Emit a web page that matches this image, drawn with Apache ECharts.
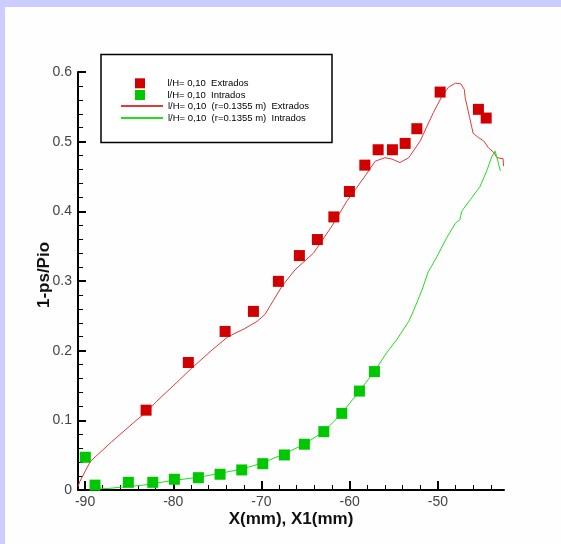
<!DOCTYPE html>
<html>
<head>
<meta charset="utf-8">
<script src="https://cdn.jsdelivr.net/npm/echarts@6/dist/echarts.min.js"></script>
<style>
html,body{margin:0;padding:0;background:#fefefe;}
#chart{width:561px;height:544px;}
</style>
</head>
<body>
<div id="chart"></div>
<script>
// ---- data ----
const extradosPoints = [
  [-83.08, 0.1146], [-78.29, 0.183], [-74.12, 0.2276], [-70.91, 0.2564], [-68.08, 0.2995],
  [-65.70, 0.3365], [-63.66, 0.3595], [-61.79, 0.392], [-60.03, 0.4285], [-58.28, 0.4663],
  [-56.77, 0.4884], [-55.15, 0.4884], [-53.71, 0.4975], [-52.38, 0.5186], [-49.74, 0.5712],
  [-45.40, 0.5464], [-44.52, 0.5339]
];
const intradosPoints = [
  [-89.97, 0.047], [-88.87, 0.007], [-85.09, 0.011], [-82.32, 0.011], [-79.87, 0.0154],
  [-77.15, 0.0177], [-74.69, 0.0226], [-72.23, 0.0288], [-69.85, 0.0378], [-67.40, 0.0503],
  [-65.13, 0.0657], [-62.93, 0.0838], [-60.89, 0.110], [-58.89, 0.142], [-57.19, 0.170]
];
const extradosLine = [
  [-90.8, 0.005], [-90.6, 0.012], [-89.4, 0.041], [-87.0, 0.069], [-84.1, 0.101], [-83.2, 0.110],
  [-81.9, 0.127], [-79.8, 0.152], [-77.9, 0.175], [-75.6, 0.201], [-73.8, 0.220], [-72.0, 0.231],
  [-70.5, 0.242], [-69.6, 0.252], [-67.7, 0.292], [-66.2, 0.316], [-64.1, 0.340], [-62.0, 0.379],
  [-60.3, 0.415], [-58.4, 0.448], [-57.1, 0.472], [-56.0, 0.477], [-55.2, 0.475], [-54.3, 0.470],
  [-53.3, 0.477], [-52.0, 0.501], [-50.5, 0.542], [-49.5, 0.566], [-48.8, 0.578], [-48.0, 0.584],
  [-47.4, 0.583], [-47.0, 0.575], [-46.9, 0.563], [-46.4, 0.535], [-46.0, 0.512], [-45.4, 0.506],
  [-44.8, 0.501], [-44.25, 0.491], [-43.7, 0.485], [-43.3, 0.477], [-42.6, 0.4755], [-42.55, 0.465]
];
const intradosLine = [
  [-89.3, 0.004], [-87.5, 0.002], [-86.0, 0.004], [-83.4, 0.007], [-79.9, 0.014], [-77.2, 0.018],
  [-74.7, 0.024], [-72.2, 0.030], [-69.85, 0.039], [-67.4, 0.052], [-65.1, 0.066], [-62.9, 0.084],
  [-60.9, 0.110], [-58.9, 0.142], [-57.2, 0.170], [-56.9, 0.176], [-55.8, 0.197], [-54.65, 0.216],
  [-53.3, 0.242], [-52.8, 0.256], [-51.8, 0.287], [-51.1, 0.313], [-50.1, 0.335], [-49.0, 0.362],
  [-48.0, 0.383], [-47.5, 0.388], [-47.3, 0.400], [-46.3, 0.417], [-45.2, 0.436], [-44.4, 0.460],
  [-43.9, 0.478], [-43.5, 0.4865], [-42.9, 0.458]
];
const xMajorTicks = [-90, -80, -70, -60, -50];
const xMinorTicks = [-88, -86, -84, -82, -78, -76, -74, -72, -68, -66, -64, -62, -58, -56, -54, -52, -48, -46, -44];
const seriesNames = [
  'l/H= 0,10  Extrados',
  'l/H= 0,10  Intrados',
  'l/H= 0,10  (r=0.1355 m)  Extrados',
  'l/H= 0,10  (r=0.1355 m)  Intrados'
];

const FONT = 'Liberation Sans, Arial, sans-serif';
const chart = echarts.init(document.getElementById('chart'), null, {renderer: 'canvas'});
const option = {
  backgroundColor: '#fefefe',
  animation: false,
  graphic: [
    {type: 'rect', shape: {x: 0, y: 0, width: 561, height: 7}, style: {fill: '#ccccff'}, silent: true},
    {type: 'rect', shape: {x: 0, y: 0, width: 5, height: 544}, style: {fill: '#ccccff'}, silent: true},
    {type: 'rect', shape: {x: 101, y: 54.5, width: 231, height: 88}, style: {fill: '#ffffff', stroke: '#000', lineWidth: 1.5}, z: 1, silent: true}
  ],
  grid: {left: 78, top: 72, right: 57, bottom: 54, containLabel: false},
  legend: [
    {
      data: [seriesNames[0], seriesNames[1]],
      orient: 'vertical', left: 135, top: 78.3, padding: 0, itemWidth: 10, itemHeight: 10, itemGap: 1.7,
      textStyle: {fontFamily: FONT, fontSize: 9.5, color: '#000', lineHeight: 10, padding: [0, 0, 0, 17.5]},
      z: 5
    },
    {
      data: [seriesNames[2], seriesNames[3]],
      orient: 'vertical', left: 120, top: 101, padding: 0, itemWidth: 42, itemHeight: 10, itemGap: 2,
      itemStyle: {color: 'rgba(0,0,0,0)', borderWidth: 0, opacity: 0},
      textStyle: {fontFamily: FONT, fontSize: 9.5, color: '#000', lineHeight: 10},
      z: 5
    }
  ],
  xAxis: [
    {
      type: 'value', min: -90.8, max: -42.5, position: 'bottom',
      name: 'X(mm), X1(mm)', nameLocation: 'middle', nameGap: 21, nameMoveOverlap: false,
      nameTextStyle: {fontFamily: FONT, fontSize: 17, fontWeight: 'bold', color: '#111'},
      axisLine: {show: true, onZero: false, lineStyle: {color: '#000', width: 2}},
      axisTick: {show: true, inside: true, length: 9, customValues: xMajorTicks, lineStyle: {color: '#000', width: 2}},
      axisLabel: {show: true, customValues: xMajorTicks, margin: 5, fontFamily: FONT, fontSize: 14, color: '#444'},
      splitLine: {show: false}
    },
    {
      type: 'value', min: -90.8, max: -42.5, position: 'bottom',
      axisLine: {show: false},
      axisTick: {show: true, inside: true, length: 5, customValues: xMinorTicks, lineStyle: {color: '#000', width: 1}},
      axisLabel: {show: false},
      splitLine: {show: false}
    }
  ],
  yAxis: {
    type: 'value', min: 0, max: 0.6, interval: 0.1,
    name: '1-ps/Pio', nameLocation: 'middle', nameGap: 25, nameRotate: 90, nameMoveOverlap: false,
    nameTextStyle: {fontFamily: FONT, fontSize: 17, fontWeight: 'bold', color: '#111', padding: [0, 0, 0, 12]},
    axisLine: {show: true, onZero: false, lineStyle: {color: '#000', width: 2}},
    axisTick: {show: true, inside: true, length: 8, lineStyle: {color: '#000', width: 2}},
    minorTick: {show: true, splitNumber: 5, length: 5, lineStyle: {color: '#000', width: 1}},
    axisLabel: {margin: 6, fontFamily: FONT, fontSize: 14, color: '#444'},
    splitLine: {show: false}
  },
  series: [
    {
      name: seriesNames[2], type: 'line', data: extradosLine, showSymbol: false, symbol: 'none',
      lineStyle: {color: '#e03a3a', width: 1}, itemStyle: {color: '#e03a3a'}, z: 2
    },
    {
      name: seriesNames[3], type: 'line', data: intradosLine, showSymbol: false, symbol: 'none',
      lineStyle: {color: '#22dd22', width: 1}, itemStyle: {color: '#22dd22'}, z: 2
    },
    {
      name: seriesNames[0], type: 'scatter', data: extradosPoints, symbol: 'rect', symbolSize: 11,
      itemStyle: {color: '#d00000', opacity: 1}, z: 3
    },
    {
      name: seriesNames[1], type: 'scatter', data: intradosPoints, symbol: 'rect', symbolSize: 11,
      itemStyle: {color: '#00c800', opacity: 1}, z: 3
    }
  ]
};
chart.setOption(option);
</script>
</body>
</html>
